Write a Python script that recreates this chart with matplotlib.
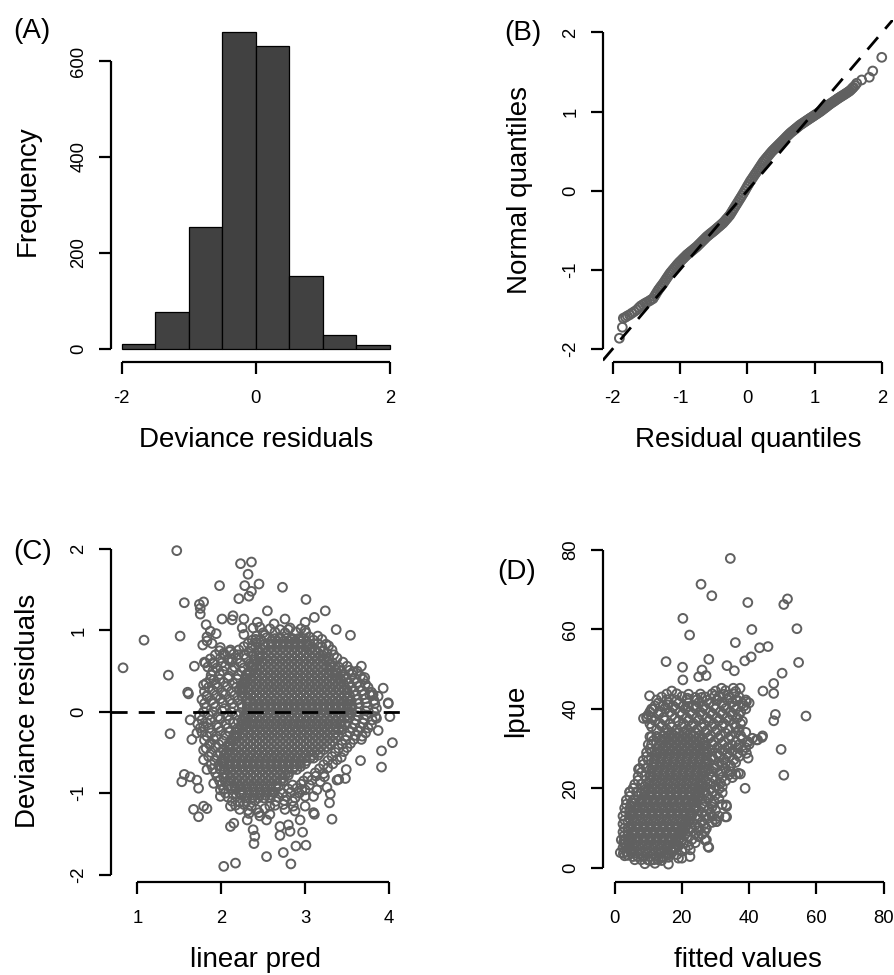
import matplotlib
matplotlib.use("Agg")
import matplotlib.pyplot as plt

plt.rcParams['font.family'] = ['Liberation Sans', 'DejaVu Sans']
plt.rcParams['axes.unicode_minus'] = False

# ---------------- data ----------------
# (A) histogram of deviance residuals
bin_left = [-2.0, -1.5, -1.0, -0.5, 0.0, 0.5, 1.0, 1.5]
bin_counts = [10, 76, 254, 660, 632, 152, 29, 7]

# (B) residual quantiles vs normal quantiles
qq_resid = [-1.90, -1.856, -1.841, -1.81, -1.782, -1.75, -1.716, -1.68, -1.642, -1.61, -1.583,
            -1.55, -1.519, -1.49, -1.455, -1.43,
            -1.40, -1.38, -1.36, -1.34, -1.32, -1.30, -1.28, -1.26, -1.24, -1.22, -1.20, -1.18,
            -1.16, -1.14, -1.12, -1.10, -1.08, -1.06, -1.04, -1.02, -1.00, -0.98, -0.96, -0.94,
            -0.92, -0.90, -0.88, -0.86, -0.84, -0.82, -0.80, -0.78, -0.76, -0.74, -0.72, -0.70,
            -0.68, -0.66, -0.64, -0.62, -0.60, -0.58, -0.56, -0.54, -0.52, -0.50, -0.48, -0.46,
            -0.44, -0.42, -0.40, -0.38, -0.36, -0.34, -0.32, -0.30, -0.28, -0.26, -0.24, -0.22,
            -0.20, -0.18, -0.16, -0.14, -0.12, -0.10, -0.08, -0.06, -0.04, -0.02, 0.00, 0.02,
            0.04, 0.06, 0.08, 0.10, 0.12, 0.14, 0.16, 0.18, 0.20, 0.22, 0.24, 0.26, 0.28, 0.30,
            0.32, 0.34, 0.36, 0.38, 0.40, 0.42, 0.44, 0.46, 0.48, 0.50, 0.52, 0.54, 0.56, 0.58,
            0.60, 0.62, 0.64, 0.66, 0.68, 0.70, 0.72, 0.74, 0.76, 0.78, 0.80, 0.82, 0.84, 0.86,
            0.88, 0.90, 0.92, 0.94, 0.96, 0.98, 1.00, 1.02, 1.04, 1.06, 1.08, 1.10, 1.12, 1.14,
            1.16, 1.18, 1.20, 1.22, 1.24, 1.26, 1.28, 1.30, 1.32, 1.34, 1.36, 1.38, 1.40, 1.42,
            1.44, 1.46, 1.48, 1.50, 1.52, 1.54, 1.56,
            1.574, 1.60, 1.624, 1.698, 1.811, 1.862, 1.996]
qq_norm = [-1.866, -1.727, -1.613, -1.600, -1.584, -1.570, -1.550, -1.530, -1.508, -1.480, -1.458,
           -1.440, -1.424, -1.410, -1.394, -1.380,
           -1.365, -1.337, -1.309, -1.281, -1.254, -1.231, -1.208, -1.186, -1.162, -1.136, -1.110,
           -1.085, -1.059, -1.036, -1.016, -0.995, -0.975, -0.955, -0.934, -0.915, -0.898, -0.881,
           -0.864, -0.847, -0.830, -0.813, -0.799, -0.785, -0.771, -0.757, -0.743, -0.729, -0.715,
           -0.699, -0.682, -0.665, -0.648, -0.631, -0.614, -0.597, -0.580, -0.566, -0.552, -0.538,
           -0.525, -0.511, -0.497, -0.482, -0.467, -0.453, -0.438, -0.423, -0.408, -0.389, -0.369,
           -0.350, -0.330, -0.310, -0.283, -0.255, -0.227, -0.199, -0.172, -0.145, -0.117, -0.090,
           -0.062, -0.034, -0.005, 0.025, 0.055, 0.084, 0.114, 0.139, 0.164, 0.190, 0.215, 0.240,
           0.266, 0.292, 0.318, 0.344, 0.369, 0.389, 0.410, 0.430, 0.450, 0.471, 0.491, 0.509,
           0.526, 0.543, 0.560, 0.577, 0.594, 0.611, 0.628, 0.645, 0.662, 0.680, 0.697, 0.714,
           0.730, 0.744, 0.758, 0.772, 0.786, 0.800, 0.814, 0.828, 0.840, 0.851, 0.863, 0.874,
           0.886, 0.897, 0.909, 0.920, 0.931, 0.942, 0.954, 0.965, 0.976, 0.988, 0.999, 1.012,
           1.025, 1.038, 1.051, 1.064, 1.078, 1.091, 1.103, 1.115, 1.126, 1.138, 1.150, 1.162,
           1.173, 1.184, 1.195, 1.205, 1.216, 1.227, 1.238, 1.250, 1.261, 1.277, 1.295,
           1.307, 1.330, 1.358, 1.400, 1.434, 1.513, 1.686]

# (C) deviance residuals vs linear predictor: scattered points (linpred, resid)
c_scatter = [
    (0.83, 0.54), (1.08, 0.88), (1.47, 1.98), (1.37, 0.45), (1.39, -0.27), (1.51, 0.93),
    (1.56, 1.34), (1.60, 0.24), (1.61, 0.22), (2.23, 1.82), (2.36, 1.84), (2.32, 1.69),
    (1.98, 1.55), (2.28, 1.55), (2.45, 1.57), (2.36, 1.48), (2.33, 1.42), (2.21, 1.39),
    (2.73, 1.53), (3.01, 1.38), (1.79, 1.35), (1.75, 1.27), (1.75, 1.20), (2.55, 1.24),
    (3.24, 1.24), (2.01, 1.14), (2.13, 1.13), (2.14, 1.18), (2.27, 1.14), (2.76, 1.14),
    (3.11, 1.16), (3.00, 1.10), (3.00, 1.00), (1.82, 1.07), (2.25, 1.03), (2.43, 1.10),
    (2.46, 1.04), (2.38, 1.03), (2.63, 1.08), (2.80, 1.01), (3.37, 1.01), (3.54, 0.94),
    (1.87, 0.99), (1.94, 0.96), (1.83, 0.92), (2.27, 0.95), (2.41, 0.89), (2.54, 0.91),
    (2.70, 0.91), (2.84, 0.89), (1.78, 0.82), (1.89, 0.84), (1.99, 0.79), (2.11, 0.76),
    (2.03, 0.72), (2.20, 0.70), (2.36, 0.78), (2.50, 0.82), (1.68, 0.56), (1.80, 0.61),
    (1.91, 0.59), (2.13, 0.64), (1.79, 0.33), (1.91, 0.39), (1.83, 0.19), (3.67, 0.56),
    (3.57, 0.49), (3.71, 0.42), (3.93, 0.29), (3.99, 0.11), (3.26, 0.72), (3.34, 0.70),
    (3.06, 0.77), (3.77, 0.21), (3.46, 0.43), (3.87, 0.19), (1.56, -0.77), (1.63, -0.80),
    (1.53, -0.86), (1.71, -0.84), (1.73, -0.94), (1.67, -1.20), (1.79, -1.16), (1.83, -1.19),
    (1.73, -1.29), (2.03, -1.90), (2.17, -1.86), (2.54, -1.78), (2.74, -1.73), (2.83, -1.87),
    (2.38, -1.45), (2.40, -1.53), (2.39, -1.62), (2.70, -1.41), (2.70, -1.52), (2.80, -1.39),
    (2.82, -1.47), (2.89, -1.65), (3.01, -1.64), (2.97, -1.48), (2.94, -1.33), (2.88, -1.22),
    (3.00, -1.16), (3.11, -1.26), (3.32, -1.32), (3.29, -1.12), (3.30, -1.01), (3.14, -0.96),
    (3.26, -0.93), (3.38, -0.84), (3.48, -0.82), (3.49, -0.71), (3.66, -0.60), (3.91, -0.68),
    (3.91, -0.48), (4.04, -0.38), (3.87, -0.23), (4.01, -0.06), (3.99, 0.10), (3.85, -0.08),
    (3.67, -0.34), (2.11, -1.41), (2.15, -1.37), (2.31, -1.33), (2.46, -1.28), (2.54, -1.33),
    (2.11, -1.16), (2.58, -1.16), (2.76, -1.20), (2.86, -1.16), (3.00, -1.04), (3.10, -1.04),
    (2.96, -0.96), (1.99, -1.04), (1.99, -0.96), (1.91, -0.88), (1.83, -0.71), (1.79, -0.59),
    (1.79, -0.47), (1.65, -0.34), (1.71, -0.26), (1.63, -0.10), (1.79, -0.18), (1.87, -0.39),
    (1.74, 1.32), (1.81, 0.60), (1.83, 0.87), (3.81, 0.21), (3.40, -0.83), (3.10, -1.24),
]

# (C) flanks of the cloud (linpred, resid)
c_flank = [
    # left
    (1.98, 0.75), (2.10, 0.74), (2.21, 0.76), (2.33, 0.74), (2.44, 0.76), (1.87, 0.65),
    (1.99, 0.66), (2.08, 0.64), (2.19, 0.65), (2.30, 0.66), (2.40, 0.64), (1.84, 0.55),
    (1.95, 0.54), (2.05, 0.56), (2.16, 0.55), (2.27, 0.54), (2.36, 0.56), (1.88, 0.45),
    (1.98, 0.46), (2.09, 0.44), (2.20, 0.45), (2.30, 0.46), (1.82, 0.35), (1.93, 0.34),
    (2.03, 0.36), (2.14, 0.35), (2.25, 0.34), (1.80, 0.25), (1.90, 0.26), (2.01, 0.24),
    (2.12, 0.25), (2.22, 0.26), (1.77, 0.15), (1.88, 0.14), (1.99, 0.16), (2.10, 0.15),
    (2.20, 0.14), (1.82, 0.05), (1.93, 0.06), (2.04, 0.04), (2.15, 0.05), (2.25, 0.06),
    (1.74, -0.05), (1.85, -0.04), (1.96, -0.06), (2.07, -0.05), (2.18, -0.04), (2.27, -0.06),
    (1.72, -0.15), (1.83, -0.14), (1.94, -0.16), (2.05, -0.15), (2.15, -0.14), (2.24, -0.16),
    (1.77, -0.25), (1.88, -0.26), (1.99, -0.24), (2.10, -0.25), (1.80, -0.35), (1.91, -0.34),
    (2.02, -0.36), (2.12, -0.35), (1.82, -0.45), (1.93, -0.44), (2.03, -0.46), (1.85, -0.55),
    (1.95, -0.54), (1.88, -0.65), (1.97, -0.66), (1.93, -0.75), (1.98, -0.85), (2.05, -0.86),
    (2.03, -0.95), (2.12, -0.94), (2.08, -1.05), (2.18, -1.04), (2.17, -1.15), (2.27, -1.14),
    (2.36, -1.16), (2.33, -1.25), (2.45, -1.24), (2.58, -1.26),
    (1.93, 0.70), (2.04, 0.70), (2.15, 0.71), (2.27, 0.70), (2.38, 0.69), (1.90, 0.60),
    (2.01, 0.60), (2.12, 0.61), (2.23, 0.60), (2.34, 0.59), (1.90, 0.50), (2.02, 0.50),
    (2.13, 0.51), (2.24, 0.50), (2.33, 0.49), (1.87, 0.40), (1.98, 0.40), (2.08, 0.41),
    (2.19, 0.40), (2.28, 0.39), (1.85, 0.30), (1.96, 0.30), (2.07, 0.31), (2.18, 0.30),
    (2.26, 0.29), (1.83, 0.20), (1.94, 0.20), (2.05, 0.21), (2.16, 0.20), (2.25, 0.19),
    (1.80, 0.10), (1.91, 0.10), (2.02, 0.11), (2.13, 0.10), (2.24, 0.09), (1.79, 0.00),
    (1.90, 0.00), (2.01, 0.01), (2.12, 0.00), (2.23, -0.01), (1.77, -0.10), (1.88, -0.10),
    (1.99, -0.09), (2.10, -0.10), (2.20, -0.11), (1.75, -0.20), (1.86, -0.20), (1.97, -0.19),
    (2.08, -0.20), (2.19, -0.21), (1.83, -0.30), (1.94, -0.30), (2.05, -0.29), (2.15, -0.30),
    (1.86, -0.40), (1.97, -0.40), (2.08, -0.41), (1.88, -0.50), (1.99, -0.50), (2.06, -0.51),
    (1.92, -0.60), (2.00, -0.61), (1.90, -0.70), (1.99, -0.71), (1.95, -0.80), (2.03, -0.81),
    (2.00, -0.90), (2.08, -0.91), (2.05, -1.00), (2.14, -1.01), (2.22, -1.00), (2.13, -1.10),
    (2.22, -1.11), (2.30, -1.10), (2.40, -1.09), (2.22, -1.20), (2.32, -1.21), (2.42, -1.20),
    (2.52, -1.19),
    # right
    (3.28, 0.65), (3.38, 0.66), (3.40, 0.55), (3.50, 0.56), (3.46, 0.45), (3.56, 0.46),
    (3.66, 0.44), (3.52, 0.35), (3.62, 0.36), (3.72, 0.34), (3.58, 0.25), (3.68, 0.26),
    (3.79, 0.24), (3.62, 0.15), (3.72, 0.16), (3.82, 0.14), (3.64, 0.05), (3.74, 0.06),
    (3.85, 0.04), (3.63, -0.05), (3.73, -0.04), (3.84, -0.06), (3.59, -0.15), (3.69, -0.14),
    (3.79, -0.16), (3.53, -0.25), (3.63, -0.24), (3.72, -0.26), (3.48, -0.35), (3.58, -0.34),
    (3.40, -0.45), (3.50, -0.44), (3.32, -0.55), (3.43, -0.56), (3.22, -0.65), (3.33, -0.64),
    (3.12, -0.75), (3.22, -0.76), (2.98, -0.85), (3.08, -0.84), (3.18, -0.86), (2.80, -0.95),
    (2.90, -0.94), (3.00, -0.96), (2.68, -1.05), (2.78, -1.04), (2.88, -1.06), (2.64, -1.15),
    (2.74, -1.14),
    (3.33, 0.60), (3.45, 0.61), (3.43, 0.50), (3.53, 0.51), (3.62, 0.50), (3.49, 0.40),
    (3.59, 0.41), (3.69, 0.40), (3.55, 0.30), (3.65, 0.31), (3.75, 0.30), (3.60, 0.20),
    (3.70, 0.21), (3.80, 0.20), (3.63, 0.10), (3.73, 0.11), (3.83, 0.10), (3.62, 0.00),
    (3.72, 0.01), (3.82, 0.00), (3.60, -0.10), (3.70, -0.09), (3.80, -0.10), (3.56, -0.20),
    (3.66, -0.19), (3.75, -0.20), (3.50, -0.30), (3.60, -0.29), (3.68, -0.30), (3.44, -0.40),
    (3.54, -0.39), (3.36, -0.50), (3.46, -0.49), (3.27, -0.60), (3.38, -0.59), (3.17, -0.70),
    (3.27, -0.69), (3.03, -0.80), (3.13, -0.79), (3.23, -0.80), (2.85, -0.90), (2.95, -0.89),
    (3.05, -0.90), (2.73, -1.00), (2.83, -0.99), (2.93, -1.00), (2.65, -1.10), (2.75, -1.09),
    (2.85, -1.10),
    # upper rim
    (2.58, 1.02), (2.70, 1.01), (2.82, 1.03), (2.95, 1.02), (2.42, 0.93), (2.52, 0.94),
    (3.05, 0.92), (3.15, 0.93), (2.32, 0.84), (2.42, 0.85), (3.15, 0.84), (3.25, 0.83),
    (3.22, 0.75), (3.32, 0.76), (2.50, 0.97), (2.64, 0.98), (2.76, 0.97), (2.89, 0.98),
    (3.01, 0.97), (2.37, 0.88), (2.47, 0.89), (3.10, 0.88), (3.20, 0.89), (2.27, 0.80),
    (2.37, 0.81), (3.20, 0.80), (3.28, 0.81),
]

# (C) dense centre of the cloud, one row of linpred values per residual level
c_core_resid = [0.90, 0.83, 0.76, 0.69, 0.62, 0.55, 0.48, 0.41, 0.34, 0.27, 0.20, 0.13, 0.06,
                -0.01, -0.08, -0.15, -0.22, -0.29, -0.36, -0.43, -0.50, -0.57, -0.64, -0.71,
                -0.78, -0.85, -0.92, -0.99, -1.06]
c_core_linpred = [
    [2.64, 2.71, 2.78, 2.85, 2.92, 2.98],
    [2.56, 2.60, 2.67, 2.74, 2.81, 2.88, 2.95, 3.02, 3.06],
    [2.49, 2.56, 2.63, 2.70, 2.77, 2.84, 2.91, 2.98, 3.05, 3.12],
    [2.45, 2.49, 2.56, 2.63, 2.70, 2.77, 2.84, 2.91, 2.98, 3.05, 3.12, 3.18, 3.21],
    [2.41, 2.48, 2.55, 2.62, 2.69, 2.76, 2.83, 2.90, 2.97, 3.04, 3.11, 3.18, 3.26],
    [2.38, 2.42, 2.49, 2.56, 2.63, 2.70, 2.77, 2.84, 2.91, 2.98, 3.05, 3.12, 3.19, 3.26, 3.30],
    [2.34, 2.41, 2.48, 2.55, 2.62, 2.69, 2.76, 2.83, 2.90, 2.97, 3.04, 3.11, 3.18, 3.25, 3.32, 3.37],
    [2.30, 2.34, 2.41, 2.48, 2.55, 2.62, 2.69, 2.76, 2.83, 2.90, 2.97, 3.04, 3.11, 3.18, 3.25, 3.32,
     3.39, 3.42],
    [2.27, 2.34, 2.41, 2.48, 2.55, 2.62, 2.69, 2.76, 2.83, 2.90, 2.97, 3.04, 3.11, 3.18, 3.25, 3.32,
     3.39, 3.46],
    [2.25, 2.29, 2.36, 2.43, 2.50, 2.57, 2.64, 2.71, 2.78, 2.85, 2.92, 2.99, 3.06, 3.13, 3.20, 3.27,
     3.34, 3.41, 3.47, 3.50],
    [2.28, 2.35, 2.42, 2.49, 2.56, 2.63, 2.70, 2.77, 2.84, 2.91, 2.98, 3.05, 3.12, 3.19, 3.26, 3.33,
     3.40, 3.47, 3.53],
    [2.30, 2.34, 2.41, 2.48, 2.55, 2.62, 2.69, 2.76, 2.83, 2.90, 2.97, 3.04, 3.11, 3.18, 3.25, 3.32,
     3.39, 3.46, 3.52, 3.55],
    [2.31, 2.38, 2.45, 2.52, 2.59, 2.66, 2.73, 2.80, 2.87, 2.94, 3.01, 3.08, 3.15, 3.22, 3.29, 3.36,
     3.43, 3.50, 3.56],
    [2.30, 2.34, 2.41, 2.48, 2.55, 2.62, 2.69, 2.76, 2.83, 2.90, 2.97, 3.04, 3.11, 3.18, 3.25, 3.32,
     3.39, 3.46, 3.52, 3.55],
    [2.28, 2.35, 2.42, 2.49, 2.56, 2.63, 2.70, 2.77, 2.84, 2.91, 2.98, 3.05, 3.12, 3.19, 3.26, 3.33,
     3.40, 3.47, 3.52],
    [2.26, 2.30, 2.37, 2.44, 2.51, 2.58, 2.65, 2.72, 2.79, 2.86, 2.93, 3.00, 3.07, 3.14, 3.21, 3.28,
     3.35, 3.42, 3.48],
    [2.22, 2.29, 2.36, 2.43, 2.50, 2.57, 2.64, 2.71, 2.78, 2.85, 2.92, 2.99, 3.06, 3.13, 3.20, 3.27,
     3.34, 3.40, 3.44],
    [2.18, 2.22, 2.29, 2.36, 2.43, 2.50, 2.57, 2.64, 2.71, 2.78, 2.85, 2.92, 2.99, 3.06, 3.13, 3.20,
     3.27, 3.34, 3.39],
    [2.14, 2.21, 2.28, 2.35, 2.42, 2.49, 2.56, 2.63, 2.70, 2.77, 2.84, 2.91, 2.98, 3.05, 3.12, 3.19,
     3.26, 3.33],
    [2.10, 2.14, 2.21, 2.28, 2.35, 2.42, 2.49, 2.56, 2.63, 2.70, 2.77, 2.84, 2.91, 2.98, 3.05, 3.12,
     3.19, 3.26],
    [2.06, 2.13, 2.20, 2.27, 2.34, 2.41, 2.48, 2.55, 2.62, 2.69, 2.76, 2.83, 2.90, 2.97, 3.04, 3.11,
     3.18],
    [2.04, 2.08, 2.15, 2.22, 2.29, 2.36, 2.43, 2.50, 2.57, 2.64, 2.71, 2.78, 2.85, 2.92, 2.99, 3.06,
     3.10],
    [2.03, 2.10, 2.17, 2.24, 2.31, 2.38, 2.45, 2.52, 2.59, 2.66, 2.73, 2.80, 2.87, 2.94, 3.00],
    [2.04, 2.08, 2.15, 2.22, 2.29, 2.36, 2.43, 2.50, 2.57, 2.64, 2.71, 2.78, 2.85, 2.90],
    [2.07, 2.14, 2.21, 2.28, 2.35, 2.42, 2.49, 2.56, 2.63, 2.70, 2.76, 2.80],
    [2.11, 2.15, 2.22, 2.29, 2.36, 2.43, 2.50, 2.57, 2.64, 2.71, 2.74],
    [2.16, 2.23, 2.30, 2.37, 2.44, 2.51, 2.58, 2.65, 2.68],
    [2.22, 2.26, 2.33, 2.40, 2.47, 2.54, 2.61, 2.63],
    [2.30, 2.37, 2.44, 2.51, 2.58],
]
# (C) rows lying between the rows above
c_mid_resid = [0.865, 0.795, 0.725, 0.655, 0.585, 0.515, 0.445, 0.375, 0.305, 0.235, 0.165,
               0.095, 0.025, -0.045, -0.115, -0.185, -0.255, -0.325, -0.395, -0.465, -0.535,
               -0.605, -0.675, -0.745, -0.815, -0.885, -0.955, -1.025]
c_mid_linpred = [
    [2.595, 2.665, 2.735, 2.805, 2.875, 2.945, 3.015],
    [2.525, 2.595, 2.665, 2.735, 2.805, 2.875, 2.945, 3.015, 3.085],
    [2.455, 2.525, 2.595, 2.665, 2.735, 2.805, 2.875, 2.945, 3.015, 3.085, 3.155],
    [2.455, 2.525, 2.595, 2.665, 2.735, 2.805, 2.875, 2.945, 3.015, 3.085, 3.155, 3.225],
    [2.385, 2.455, 2.525, 2.595, 2.665, 2.735, 2.805, 2.875, 2.945, 3.015, 3.085, 3.155, 3.225,
     3.295],
    [2.385, 2.455, 2.525, 2.595, 2.665, 2.735, 2.805, 2.875, 2.945, 3.015, 3.085, 3.155, 3.225,
     3.295, 3.365],
    [2.315, 2.385, 2.455, 2.525, 2.595, 2.665, 2.735, 2.805, 2.875, 2.945, 3.015, 3.085, 3.155,
     3.225, 3.295, 3.365],
    [2.315, 2.385, 2.455, 2.525, 2.595, 2.665, 2.735, 2.805, 2.875, 2.945, 3.015, 3.085, 3.155,
     3.225, 3.295, 3.365, 3.435],
    [2.245, 2.315, 2.385, 2.455, 2.525, 2.595, 2.665, 2.735, 2.805, 2.875, 2.945, 3.015, 3.085,
     3.155, 3.225, 3.295, 3.365, 3.435],
    [2.245, 2.315, 2.385, 2.455, 2.525, 2.595, 2.665, 2.735, 2.805, 2.875, 2.945, 3.015, 3.085,
     3.155, 3.225, 3.295, 3.365, 3.435, 3.505],
    [2.315, 2.385, 2.455, 2.525, 2.595, 2.665, 2.735, 2.805, 2.875, 2.945, 3.015, 3.085, 3.155,
     3.225, 3.295, 3.365, 3.435, 3.505],
    [2.315, 2.385, 2.455, 2.525, 2.595, 2.665, 2.735, 2.805, 2.875, 2.945, 3.015, 3.085, 3.155,
     3.225, 3.295, 3.365, 3.435, 3.505],
    [2.315, 2.385, 2.455, 2.525, 2.595, 2.665, 2.735, 2.805, 2.875, 2.945, 3.015, 3.085, 3.155,
     3.225, 3.295, 3.365, 3.435, 3.505],
    [2.315, 2.385, 2.455, 2.525, 2.595, 2.665, 2.735, 2.805, 2.875, 2.945, 3.015, 3.085, 3.155,
     3.225, 3.295, 3.365, 3.435, 3.505],
    [2.245, 2.315, 2.385, 2.455, 2.525, 2.595, 2.665, 2.735, 2.805, 2.875, 2.945, 3.015, 3.085,
     3.155, 3.225, 3.295, 3.365, 3.435],
    [2.245, 2.315, 2.385, 2.455, 2.525, 2.595, 2.665, 2.735, 2.805, 2.875, 2.945, 3.015, 3.085,
     3.155, 3.225, 3.295, 3.365, 3.435],
    [2.175, 2.245, 2.315, 2.385, 2.455, 2.525, 2.595, 2.665, 2.735, 2.805, 2.875, 2.945, 3.015,
     3.085, 3.155, 3.225, 3.295, 3.365],
    [2.175, 2.245, 2.315, 2.385, 2.455, 2.525, 2.595, 2.665, 2.735, 2.805, 2.875, 2.945, 3.015,
     3.085, 3.155, 3.225, 3.295, 3.365],
    [2.105, 2.175, 2.245, 2.315, 2.385, 2.455, 2.525, 2.595, 2.665, 2.735, 2.805, 2.875, 2.945,
     3.015, 3.085, 3.155, 3.225, 3.295],
    [2.105, 2.175, 2.245, 2.315, 2.385, 2.455, 2.525, 2.595, 2.665, 2.735, 2.805, 2.875, 2.945,
     3.015, 3.085, 3.155, 3.225],
    [2.035, 2.105, 2.175, 2.245, 2.315, 2.385, 2.455, 2.525, 2.595, 2.665, 2.735, 2.805, 2.875,
     2.945, 3.015, 3.085, 3.155],
    [2.035, 2.105, 2.175, 2.245, 2.315, 2.385, 2.455, 2.525, 2.595, 2.665, 2.735, 2.805, 2.875,
     2.945, 3.015],
    [2.035, 2.105, 2.175, 2.245, 2.315, 2.385, 2.455, 2.525, 2.595, 2.665, 2.735, 2.805, 2.875,
     2.945],
    [2.105, 2.175, 2.245, 2.315, 2.385, 2.455, 2.525, 2.595, 2.665, 2.735, 2.805],
    [2.105, 2.175, 2.245, 2.315, 2.385, 2.455, 2.525, 2.595, 2.665, 2.735],
    [2.175, 2.245, 2.315, 2.385, 2.455, 2.525, 2.595, 2.665],
    [2.175, 2.245, 2.315, 2.385, 2.455, 2.525, 2.595],
    [2.245, 2.315, 2.385, 2.455, 2.525, 2.595],
]

# (D) lpue vs fitted values: scattered points (fitted, lpue)
d_scatter = [
    (34.4, 77.9), (25.7, 71.4), (28.9, 68.5), (39.6, 66.8), (50.3, 66.3), (51.4, 67.7),
    (20.3, 62.8), (22.3, 58.6), (40.8, 60.0), (54.2, 60.2), (35.9, 56.7), (43.1, 55.4),
    (45.6, 55.7), (15.3, 51.9), (20.2, 50.5), (20.3, 47.3), (28.0, 52.5), (26.0, 49.8),
    (25.0, 48.1), (27.2, 48.4), (33.4, 50.9), (35.6, 49.6), (38.7, 52.1), (40.6, 53.1),
    (54.7, 51.7), (49.8, 49.0), (47.3, 46.4), (44.1, 44.5), (47.3, 43.9), (47.8, 38.6),
    (47.3, 37.0), (56.9, 38.2), (49.5, 29.8), (50.3, 23.3), (43.8, 32.8), (42.5, 32.2),
    (38.8, 20.0), (39.7, 27.6), (37.4, 23.6), (10.4, 43.3), (11.6, 39.9), (9.6, 37.6),
    (8.6, 37.6), (4.5, 19.1), (7.1, 24.8), (1.7, 3.8), (2.7, 6.5), (28.0, 5.1), (26.9, 7.0),
    (26.8, 9.1), (27.3, 9.9), (32.9, 12.8), (30.2, 11.6), (33.2, 15.8), (20.0, 2.4),
    (22.5, 4.5), (15.8, 41.0), (21.6, 42.7), (25.9, 42.9), (29.8, 43.3), (31.8, 45.2),
    (35.3, 45.2), (37.3, 45.2), (33.8, 43.5), (39.2, 41.8), (36.1, 42.2), (30.3, 42.2),
    (21.9, 40.6), (24.4, 40.6), (44.0, 33.2), (42.2, 32.2), (39.7, 31.7), (39.2, 28.8),
    (36.8, 23.8), (33.3, 15.4), (33.3, 12.8), (30.3, 11.6), (27.3, 7.0), (27.8, 5.3),
    (22.4, 2.8), (9.5, 38.0), (10.5, 33.0), (3.1, 6.1), (2.6, 3.6),
]

# (D) edges of the cloud (fitted, lpue)
d_flank = [
    # upper part
    (17, 44.5), (30, 44.5), (33, 44.6), (36, 44.4), (14, 43), (20, 43.1), (24, 42.9),
    (27, 43), (31, 43.1), (34, 42.9), (37, 43), (13, 41.5), (16, 41.6), (19, 41.4),
    (22, 41.5), (25, 41.6), (28, 41.4), (32, 41.5), (35, 41.6), (38, 41.4), (40, 41.5),
    (11, 40), (15, 40.1), (18, 39.9), (21, 40), (24, 40.1), (27, 39.9), (30, 40), (33, 40.1),
    (36, 39.9), (39, 40), (10, 38.5), (13, 38.6), (17, 38.4), (20, 38.5), (23, 38.6),
    (26, 38.4), (29, 38.5), (32, 38.6), (35, 38.4), (37, 38.5), (12, 37), (15, 37.1),
    (19, 36.9), (22, 37), (25, 37.1), (28, 36.9), (31, 37), (34, 37.1), (38, 36.9),
    (11, 35.5), (14, 35.6), (17, 35.4), (20, 35.5), (23, 35.6), (26, 35.4), (29, 35.5),
    (32, 35.6), (36, 35.4),
    (15.5, 43.75), (18.5, 43.8), (22, 43.7), (25.5, 43.75), (29, 43.8), (32.5, 43.7),
    (35.5, 43.75), (12.5, 42.25), (15.5, 42.3), (18.5, 42.2), (21.5, 42.25), (24.5, 42.3),
    (27.5, 42.2), (30.5, 42.25), (33.5, 42.3), (36.5, 42.2), (39, 42.25), (12, 40.75),
    (14.5, 40.8), (17.5, 40.7), (20.5, 40.75), (23.5, 40.8), (26.5, 40.7), (29.5, 40.75),
    (32.5, 40.8), (35.5, 40.7), (38.5, 40.75), (10.5, 39.25), (13.5, 39.3), (16.5, 39.2),
    (19.5, 39.25), (22.5, 39.3), (25.5, 39.2), (28.5, 39.25), (31.5, 39.3), (34.5, 39.2),
    (37.5, 39.25), (11, 37.75), (14.5, 37.8), (18, 37.7), (21.5, 37.75), (24.5, 37.8),
    (27.5, 37.7), (30.5, 37.75), (33.5, 37.8), (36.5, 37.7), (10.5, 36.25), (13.5, 36.3),
    (16.5, 36.2), (20.5, 36.25), (23.5, 36.3), (26.5, 36.2), (29.5, 36.25), (32.5, 36.3),
    (35.5, 36.2), (37.5, 36.25), (12.5, 34.75), (15.5, 34.8), (18.5, 34.7), (21.5, 34.75),
    (24.5, 34.8), (27.5, 34.7), (30.5, 34.75), (34, 34.8), (37, 34.7),
    # right side
    (27, 34), (30, 34.1), (33, 33.9), (36, 34), (39, 34.1), (28, 32.5), (31, 32.6),
    (34, 32.4), (38, 32.5), (41, 32.6), (29, 31), (32, 31.1), (35, 30.9), (37, 31), (40, 31.1),
    (29, 29.5), (32, 29.6), (35, 29.4), (38, 29.5), (29, 28), (31, 28.1), (34, 27.9), (37, 28),
    (28, 26.5), (31, 26.6), (33, 26.4), (36, 26.5), (28, 25), (30, 25.1), (33, 24.9),
    (28, 23.5), (31, 23.6), (34, 23.4), (36, 23.5), (27, 22), (30, 22.1), (33, 21.9),
    (27, 20.5), (30, 20.6), (32, 20.4), (27, 19), (29, 19.1), (32, 18.9), (26, 17.5),
    (28, 17.6), (31, 17.4), (26, 16), (29, 16.1), (32, 15.9), (25, 14.5), (28, 14.6),
    (30, 14.4), (25, 13), (27, 13.1), (29, 12.9), (31, 13), (23, 11.5), (26, 11.6), (29, 11.4),
    (23, 10), (25, 10.1), (27, 9.9), (21, 8.5), (24, 8.6), (26, 8.4), (20, 7), (23, 7.1),
    (27, 6.9), (19, 5.5), (22, 5.6), (17, 4), (20, 4.1), (14, 2.5), (16, 2.6), (19, 2.4),
    (9, 1), (12, 1.1), (16, 0.9),
    (28.5, 33.25), (31.5, 33.3), (34.5, 33.2), (37.5, 33.25), (29.5, 31.75), (32.5, 31.8),
    (36, 31.7), (39.5, 31.75), (30.5, 30.25), (33.5, 30.3), (36.5, 30.2), (39, 30.25),
    (30.5, 28.75), (33.5, 28.8), (36.5, 28.7), (29.5, 27.25), (32.5, 27.3), (35.5, 27.2),
    (29.5, 25.75), (32, 25.8), (34.5, 25.7), (29, 24.25), (31.5, 24.3), (34.5, 24.2),
    (29, 22.75), (32, 22.8), (35, 22.7), (28.5, 21.25), (31.5, 21.3), (28.5, 19.75),
    (31, 19.8), (27.5, 18.25), (30, 18.3), (27, 16.75), (29.5, 16.8), (26.5, 15.25),
    (29, 15.3), (26, 13.75), (28.5, 13.8), (24.5, 12.25), (27.5, 12.3), (30, 12.2),
    (24, 10.75), (26.5, 10.8), (22, 9.25), (25, 9.3), (21.5, 7.75), (25, 7.8), (20.5, 6.25),
    (24, 6.3), (18, 4.75), (21, 4.8), (16, 3.25), (18.5, 3.3), (10.5, 1.75), (14, 1.8),
    # left side
    (11, 33), (12.5, 33.1), (10, 31), (11, 31.1), (9.5, 29), (11, 29.1), (8.5, 27), (10, 27.1),
    (7.5, 25), (9.5, 25.1), (7, 23), (9, 23.1), (6, 21), (8, 21.1), (4.5, 19), (6.5, 19.1),
    (3.5, 17), (3, 15), (2.5, 13), (2.5, 11), (2.5, 9), (2, 7), (3, 7.1), (2.5, 5), (3, 3),
    (4, 3.1), (11.5, 32), (10.5, 30), (9.5, 28), (8.5, 26), (8, 24), (7, 22), (5.5, 20),
    (4.5, 18), (3.5, 16), (3.2, 14), (3, 12), (3, 10), (2.8, 8), (3, 6), (3.5, 4),
]

# (D) dense centre of the cloud, one row of fitted values per lpue level
d_core_lpue = [34.0, 32.4, 30.8, 29.2, 27.6, 26.0, 24.4, 22.8, 21.2, 19.6, 18.0, 16.4, 14.8,
               13.2, 11.6, 10.0, 8.4, 6.8, 5.2, 3.6, 2.0]
d_core_fitted = [
    [15.0, 16.9, 18.8, 20.7, 22.6, 24.2],
    [14.0, 14.9, 16.8, 18.7, 20.6, 22.5, 24.4, 26.2],
    [13.2, 15.1, 17.0, 18.9, 20.8, 22.7, 24.6, 26.5, 27.0],
    [12.5, 13.4, 15.3, 17.2, 19.1, 21.0, 22.9, 24.8, 26.7, 27.5],
    [12.0, 13.9, 15.8, 17.7, 19.6, 21.5, 23.4, 25.3, 27.2],
    [11.5, 12.4, 14.3, 16.2, 18.1, 20.0, 21.9, 23.8, 25.7, 27.2],
    [11.0, 12.9, 14.8, 16.7, 18.6, 20.5, 22.4, 24.3, 26.2, 27.0],
    [10.5, 11.4, 13.3, 15.2, 17.1, 19.0, 20.9, 22.8, 24.7, 26.5],
    [10.0, 11.9, 13.8, 15.7, 17.6, 19.5, 21.4, 23.3, 25.2, 26.0],
    [9.0, 9.9, 11.8, 13.7, 15.6, 17.5, 19.4, 21.3, 23.2, 25.1, 25.5],
    [7.0, 8.9, 10.8, 12.7, 14.6, 16.5, 18.4, 20.3, 22.2, 24.1, 25.0],
    [5.0, 5.9, 7.8, 9.7, 11.6, 13.5, 15.4, 17.3, 19.2, 21.1, 23.0, 24.5],
    [4.5, 6.4, 8.3, 10.2, 12.1, 14.0, 15.9, 17.8, 19.7, 21.6, 23.5, 24.0],
    [4.5, 5.4, 7.3, 9.2, 11.1, 13.0, 14.9, 16.8, 18.7, 20.6, 22.5, 23.0],
    [4.0, 5.9, 7.8, 9.7, 11.6, 13.5, 15.4, 17.3, 19.2, 21.1, 22.0],
    [4.0, 4.9, 6.8, 8.7, 10.6, 12.5, 14.4, 16.3, 18.2, 20.1, 21.0],
    [4.0, 5.9, 7.8, 9.7, 11.6, 13.5, 15.4, 17.3, 19.2, 20.0],
    [4.0, 4.9, 6.8, 8.7, 10.6, 12.5, 14.4, 16.3, 18.2, 19.0],
    [4.5, 6.4, 8.3, 10.2, 12.1, 14.0, 15.9, 17.5],
    [5.0, 5.9, 7.8, 9.7, 11.6, 13.5, 15.4, 16.0],
    [6.0, 7.9, 9.8, 11.7, 13.0],
]
# (D) rows lying between the rows above
d_mid_lpue = [33.2, 31.6, 30.0, 28.4, 26.8, 25.2, 23.6, 22.0, 20.4, 18.8, 17.2, 15.6, 14.0,
              12.4, 10.8, 9.2, 7.6, 6.0, 4.4, 2.8]
d_mid_fitted = [
    [14.5, 15.95, 17.85, 19.75, 21.65, 23.55, 25.2],
    [13.95, 15.85, 17.75, 19.65, 21.55, 23.45, 25.35, 26.6],
    [12.9, 14.15, 16.05, 17.95, 19.85, 21.75, 23.65, 25.55, 27.2],
    [12.45, 14.35, 16.25, 18.15, 20.05, 21.95, 23.85, 25.75, 27.35],
    [11.75, 13.65, 15.55, 17.45, 19.35, 21.25, 23.15, 25.05, 26.95],
    [11.45, 13.35, 15.25, 17.15, 19.05, 20.95, 22.85, 24.75, 26.65],
    [10.75, 12.65, 14.55, 16.45, 18.35, 20.25, 22.15, 24.05, 25.95],
    [10.45, 12.35, 14.25, 16.15, 18.05, 19.95, 21.85, 23.75, 25.65],
    [9.05, 10.95, 12.85, 14.75, 16.65, 18.55, 20.45, 22.35, 24.25, 25.7],
    [8.0, 8.95, 10.85, 12.75, 14.65, 16.55, 18.45, 20.35, 22.25, 24.15, 25.2],
    [6.05, 7.95, 9.85, 11.75, 13.65, 15.55, 17.45, 19.35, 21.25, 23.15, 24.7],
    [4.95, 6.85, 8.75, 10.65, 12.55, 14.45, 16.35, 18.25, 20.15, 22.05, 23.95],
    [4.5, 5.45, 7.35, 9.25, 11.15, 13.05, 14.95, 16.85, 18.75, 20.65, 22.55],
    [4.45, 6.35, 8.25, 10.15, 12.05, 13.95, 15.85, 17.75, 19.65, 21.55, 22.5],
    [4.95, 6.85, 8.75, 10.65, 12.55, 14.45, 16.35, 18.25, 20.15, 21.5],
    [3.95, 5.85, 7.75, 9.65, 11.55, 13.45, 15.35, 17.25, 19.15, 20.4],
    [4.95, 6.85, 8.75, 10.65, 12.55, 14.45, 16.35, 18.25, 19.5],
    [4.2, 5.85, 7.75, 9.65, 11.55, 13.45, 15.35, 17.25, 18.2],
    [4.7, 5.45, 7.35, 9.25, 11.15, 13.05, 14.95, 16.7],
    [5.5, 6.85, 8.75, 10.65, 12.55, 14.45],
]

# tick positions
a_xticks, a_yticks = [-2, 0, 2], [0, 200, 400, 600]
b_xticks, b_yticks = [-2, -1, 0, 1, 2], [-2, -1, 0, 1, 2]
c_xticks, c_yticks = [1, 2, 3, 4], [-2, -1, 0, 1, 2]
d_xticks, d_yticks = [0, 20, 40, 60, 80], [0, 20, 40, 60, 80]

# ---------------- drawing ----------------
W, H = 894, 975
fig = plt.figure(figsize=(W / 100, H / 100), dpi=100)
fig.patch.set_facecolor('white')

PT_GRAY = '#606060'
TICK_FS = 13.3
LAB_FS = 20


def add_panel(left, top, right, bottom):
    return fig.add_axes([left / W, 1 - bottom / H, (right - left) / W, (bottom - top) / H])


def style(ax, xticks, yticks, xlim, ylim):
    ax.set_xlim(*xlim)
    ax.set_ylim(*ylim)
    ax.patch.set_alpha(0)
    for s in ('top', 'right'):
        ax.spines[s].set_visible(False)
    for s in ('left', 'bottom'):
        ax.spines[s].set_linewidth(1.6)
        ax.spines[s].set_capstyle('butt')
    ax.spines['bottom'].set_bounds(xticks[0], xticks[-1])
    ax.spines['left'].set_bounds(yticks[0], yticks[-1])
    ax.set_xticks(xticks)
    ax.set_xticklabels([str(t) for t in xticks])
    ax.set_yticks(yticks)
    ax.set_yticklabels([str(t) for t in yticks], rotation=90, va='center')
    ax.tick_params(axis='both', direction='out', length=8.3, width=1.6,
                   labelsize=TICK_FS, colors='black')
    ax.tick_params(axis='x', pad=12.5)
    ax.tick_params(axis='y', pad=8.5)


def scatter_pts(ax, xs, ys):
    ax.scatter(xs, ys, s=40, facecolors='none', edgecolors=PT_GRAY, linewidths=1.4,
               zorder=2, clip_on=False)


def gather(pairs, row_vals, row_lists):
    xs = [p[0] for p in pairs]
    ys = [p[1] for p in pairs]
    for v, row in zip(row_vals, row_lists):
        xs.extend(row)
        ys.extend([v] * len(row))
    return xs, ys


def fig_text(x, y, s, **kw):
    fig.text(x / W, 1 - y / H, s, **kw)


DASH = (0, (5.8, 4.0))

# (A)
axA = add_panel(110.8, 19.6, 400.8, 361.5)
axA.bar(bin_left, bin_counts, width=0.5, align='edge', color='#414141',
        edgecolor='black', linewidth=0.9, zorder=2)
style(axA, a_xticks, a_yticks, (-2.16, 2.16), (-26.4, 686.4))

# (B)
axB = add_panel(602.8, 19.6, 892.8, 361.5)
scatter_pts(axB, qq_resid, qq_norm)
axB.axline((0, 0), (1, 1), color='black', lw=2.0, linestyle=DASH, zorder=3)
style(axB, b_xticks, b_yticks, (-2.146, 2.16), (-2.16, 2.163))

# (C)
axC = add_panel(110.8, 539.5, 400.8, 881.5)
cx, cy = gather(c_scatter + c_flank, c_core_resid, c_core_linpred)
mx, my = gather([], c_mid_resid, c_mid_linpred)
scatter_pts(axC, cx + mx, cy + my)
axC.axhline(0, color='black', lw=2.0, linestyle=DASH, zorder=3)
style(axC, c_xticks, c_yticks, (0.684, 4.14), (-2.086, 2.117))

# (D)
axD = add_panel(602.8, 539.5, 892.8, 881.5)
dx, dy = gather(d_scatter + d_flank, d_core_lpue, d_core_fitted)
ex, ey = gather([], d_mid_lpue, d_mid_fitted)
scatter_pts(axD, dx + ex, dy + ey)
style(axD, d_xticks, d_yticks, (-3.5, 82.7), (-3.48, 82.67))

# axis titles
fig_text(255.8, 447, 'Deviance residuals', ha='center', va='baseline', fontsize=LAB_FS)
fig_text(747.8, 447, 'Residual quantiles', ha='center', va='baseline', fontsize=LAB_FS)
fig_text(255.8, 967, 'linear pred', ha='center', va='baseline', fontsize=LAB_FS)
fig_text(747.8, 967, 'fitted values', ha='center', va='baseline', fontsize=LAB_FS)
fig_text(28, 190.5, 'Frequency', ha='center', va='center', rotation=90, fontsize=LAB_FS)
fig_text(520, 190.5, 'Normal quantiles', ha='center', va='center', rotation=90, fontsize=LAB_FS)
fig_text(28, 710.5, 'Deviance residuals', ha='center', va='center', rotation=90, fontsize=LAB_FS)
fig_text(516, 710.5, 'lpue', ha='center', va='center', rotation=90, fontsize=LAB_FS)

# panel tags
fig_text(13, 31, '(A)', ha='left', va='center', fontsize=LAB_FS)
fig_text(504, 33, '(B)', ha='left', va='center', fontsize=LAB_FS)
fig_text(13, 552, '(C)', ha='left', va='center', fontsize=LAB_FS)
fig_text(497, 572, '(D)', ha='left', va='center', fontsize=LAB_FS)

fig.savefig('out.png', dpi=100, facecolor='white')
